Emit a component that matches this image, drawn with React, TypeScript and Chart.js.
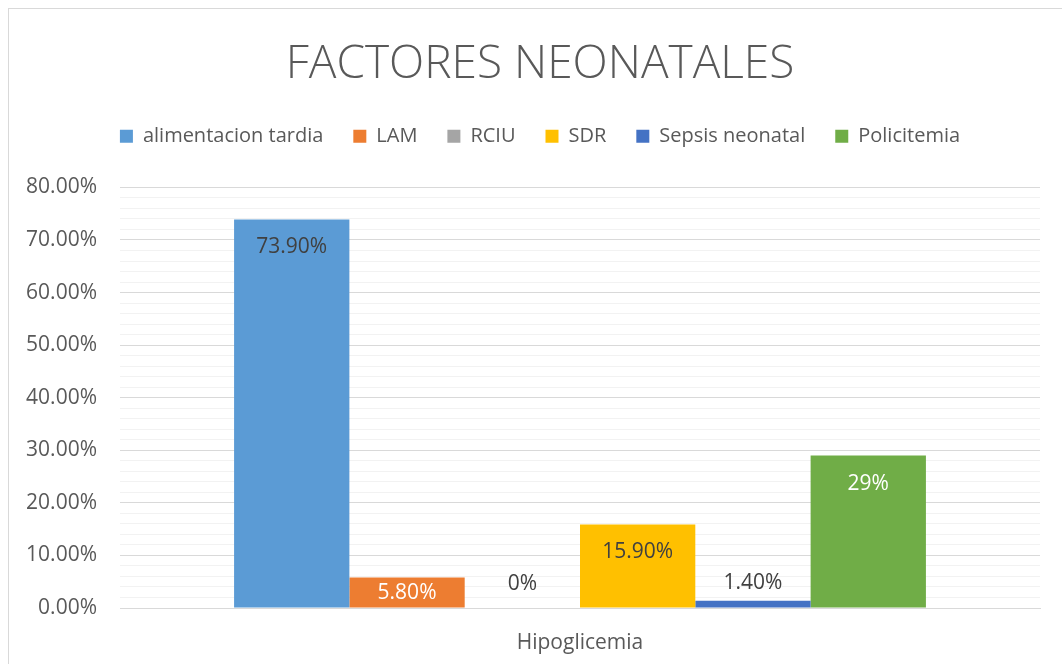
import React, { useEffect, useRef } from "react";
import { Chart, registerables } from "chart.js";

Chart.register(...registerables);

const categories = ["Hipoglicemia"];
const seriesNames = [
  "alimentacion tardia",
  "LAM",
  "RCIU",
  "SDR",
  "Sepsis neonatal",
  "Policitemia",
];
const seriesValues = [73.9, 5.8, 0, 15.9, 1.4, 29];
const valueLabels = ["73.90%", "5.80%", "0%", "15.90%", "1.40%", "29%"];
const yMin = 0;
const yMax = 80;
const yMajorStep = 10;
const yMinorStep = 2;

const seriesColors = ["#5B9BD5", "#ED7D31", "#A5A5A5", "#FFC000", "#4472C4", "#70AD47"];
const insideLabelColors = ["#404040", "#FFFFFF", "#404040", "#404040", "#404040", "#FFFFFF"];

const FONT = "'Open Sans', sans-serif";

const valueLabelPlugin = {
  id: "valueLabels",
  afterDatasetsDraw(chart: any) {
    const ctx = chart.ctx;
    ctx.save();
    ctx.font = `21px ${FONT}`;
    ctx.textAlign = "center";
    ctx.textBaseline = "middle";
    chart.data.datasets.forEach((_ds: any, i: number) => {
      const meta = chart.getDatasetMeta(i);
      meta.data.forEach((el: any) => {
        const { x, y, base } = el.getProps(["x", "y", "base"], true);
        const h = base - y;
        let cy: number;
        let color: string;
        if (h >= 25) {
          cy = Math.min(y + 28, base - 14);
          color = insideLabelColors[i];
        } else {
          cy = base - 24;
          color = "#404040";
        }
        ctx.fillStyle = color;
        ctx.fillText(valueLabels[i], x, cy);
      });
    });
    ctx.restore();
  },
};

export default function App() {
  const canvasRef = useRef<HTMLCanvasElement | null>(null);

  useEffect(() => {
    if (!canvasRef.current) return;
    const chart = new Chart(canvasRef.current, {
      type: "bar",
      data: {
        labels: categories,
        datasets: seriesNames.map((name, i) => ({
          label: name,
          data: [seriesValues[i]],
          backgroundColor: seriesColors[i],
          borderWidth: 0,
          barPercentage: 1,
          categoryPercentage: 0.752,
        })),
      },
      options: {
        animation: false,
        responsive: false,
        maintainAspectRatio: false,
        layout: { padding: 0 },
        plugins: {
          title: {
            display: true,
            text: "FACTORES NEONATALES",
            color: "#595959",
            font: { family: FONT, size: 46, weight: "300" as any },
            padding: { top: 28.5, bottom: 3.5 },
          },
          subtitle: {
            display: true,
            text: "",
            weight: 500,
            font: { size: 1 },
            padding: { top: 30, bottom: 0 },
          } as any,
          legend: {
            display: true,
            position: "top",
            labels: {
              boxWidth: 13,
              boxHeight: 13,
              padding: 30,
              color: "#595959",
              font: { family: FONT, size: 20 },
            },
          },
          tooltip: { enabled: false },
        },
        scales: {
          x: {
            grid: { display: false, drawTicks: false },
            border: { display: true, color: "#D9D9D9", width: 1 },
            ticks: {
              color: "#595959",
              font: { family: FONT, size: 21 },
              padding: 22,
            },
            afterFit: (s: any) => {
              s.height = 79;
            },
          },
          y: {
            min: yMin,
            max: yMax,
            grid: {
              drawTicks: false,
              color: (c: any) =>
                c.tick && c.tick.value % yMajorStep === 0 ? "#D9D9D9" : "#F2F2F2",
              lineWidth: 1,
            },
            border: { display: false },
            ticks: {
              stepSize: yMinorStep,
              maxTicksLimit: 100,
              autoSkip: false,
              color: "#595959",
              font: { family: FONT, size: 21 },
              padding: 23,
              callback: (v: any) =>
                Number(v) % yMajorStep === 0 ? Number(v).toFixed(2) + "%" : "",
            },
            afterFit: (s: any) => {
              s.width = 111;
            },
          },
          r: {
            type: "linear",
            position: "right",
            display: true,
            grid: { display: false, drawTicks: false },
            border: { display: false },
            ticks: { display: false },
            afterFit: (s: any) => {
              s.width = 31;
            },
          } as any,
        },
      },
      plugins: [valueLabelPlugin],
    });
    return () => chart.destroy();
  }, []);

  return (
    <div
      style={{
        position: "fixed",
        left: 0,
        top: 0,
        width: 1062,
        height: 664,
        overflow: "hidden",
        background: "#ffffff",
      }}
    >
      <div
        style={{
          position: "absolute",
          left: 8,
          top: 8,
          width: 1064,
          height: 680,
          boxSizing: "border-box",
          border: "1px solid #D9D9D9",
          background: "#ffffff",
        }}
      >
        <canvas ref={canvasRef} width={1062} height={678} style={{ display: "block" }} />
      </div>
    </div>
  );
}
